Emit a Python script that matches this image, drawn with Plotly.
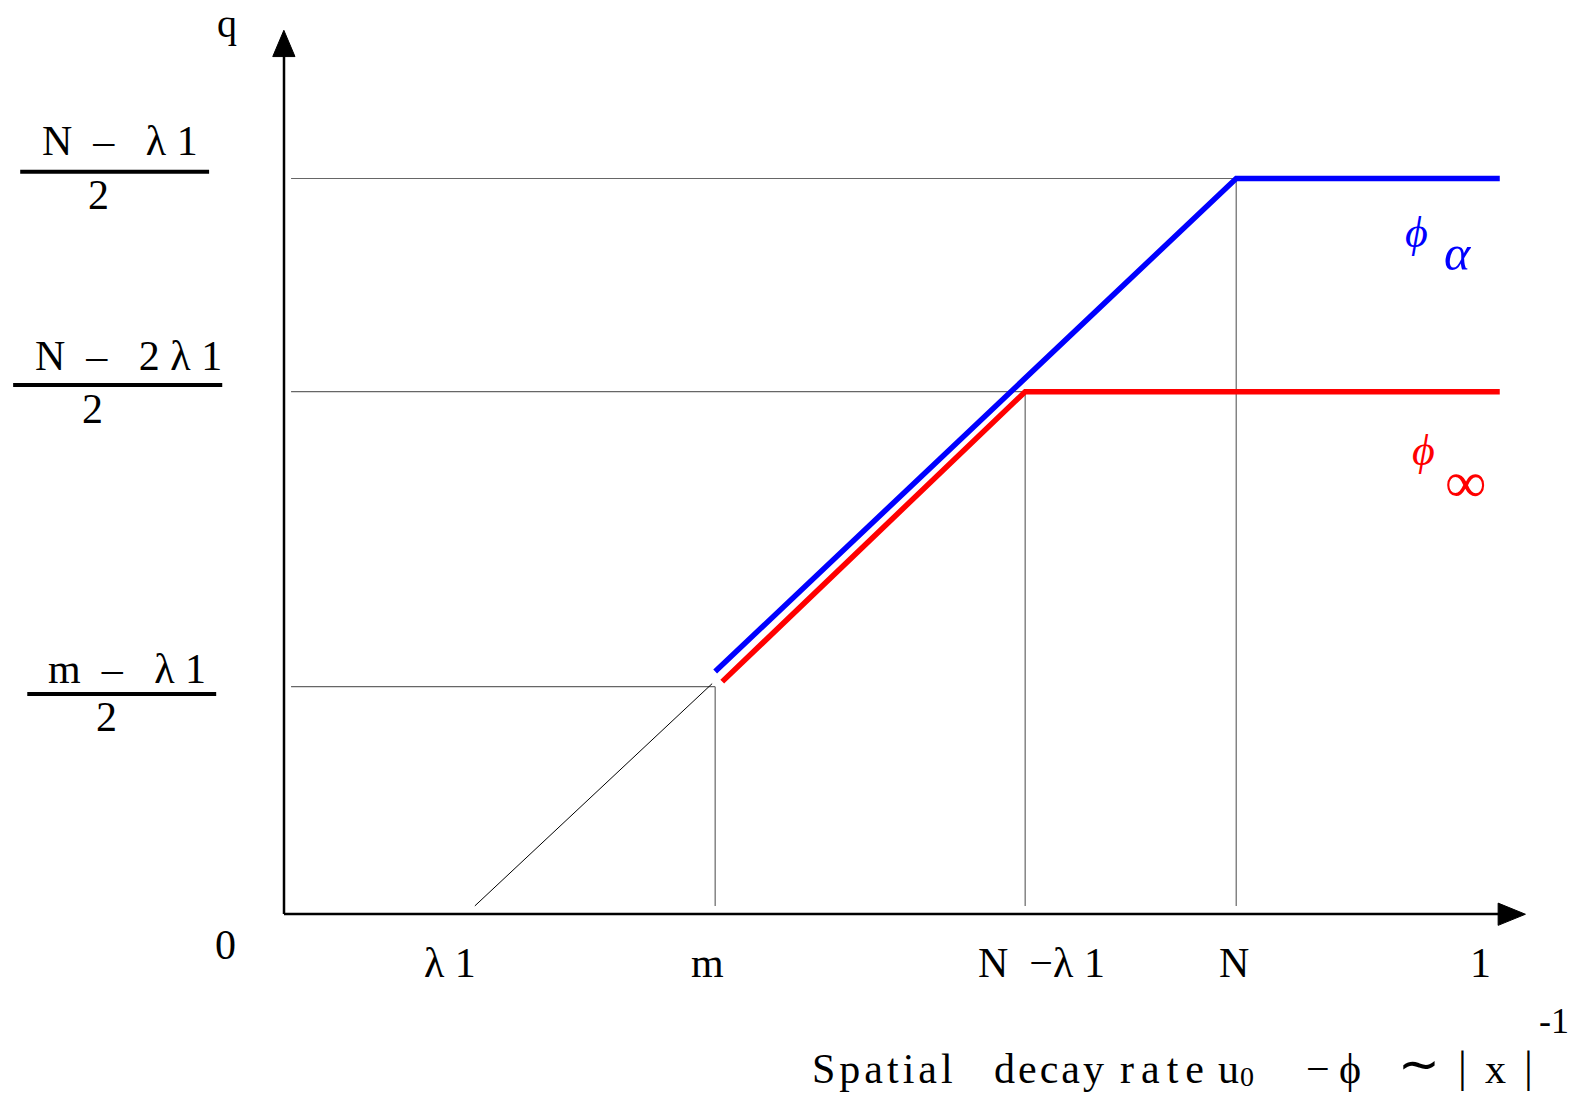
import plotly.graph_objects as go

# ---------------- data ----------------
x_tick_labels = ["λ\u00a01", "m", "N\u00a0\u00a0−λ\u00a01", "N", "1"]
x_tick_values = [1.89, 4.27, 7.34, 9.43, 11.84]

level_names = ["(m−λ1)/2", "(N−2λ1)/2", "(N−λ1)/2"]
level_values = [2.25, 5.17, 7.28]          # q levels
level_x = [4.27, 7.34, 9.43]               # x where each level is reached

blue_x = [4.27, 9.43, 12.04]               # phi_alpha
blue_y = [2.40, 7.28, 7.28]
red_x = [4.34, 7.34, 12.04]                # phi_infinity
red_y = [2.30, 5.17, 5.17]
black_x = [1.89, 4.24]                     # thin diagonal from lambda_1
black_y = [0.08, 2.28]

X_MAX, Y_MAX = 12.29, 8.75
W, H = 1584, 1093
S = 1584 / 1568                             # layout positions measured on a 1568-wide view
ML, MT = round(281 * S), round(30 * S)
PR, PB = round(1510 * S), round(905 * S)
MR, MB = W - PR, H - PB
PW, PH = PR - ML, PB - MT


def pxx(px):
    return (px * S - ML) / PW


def pxy(py):
    return (PB - py * S) / PH


FONT = "Liberation Serif"
fig = go.Figure()

# gray reference lines
GRAY = "#666666"
for lx, ly in zip(level_x, level_values):
    fig.add_trace(go.Scatter(x=[0.07, lx], y=[ly, ly], mode="lines",
                             line=dict(color=GRAY, width=1.2),
                             hoverinfo="skip", showlegend=False))
    fig.add_trace(go.Scatter(x=[lx, lx], y=[0.08, ly], mode="lines",
                             line=dict(color=GRAY, width=1.2),
                             hoverinfo="skip", showlegend=False))

fig.add_trace(go.Scatter(x=black_x, y=black_y, mode="lines",
                         line=dict(color="black", width=1),
                         hoverinfo="skip", showlegend=False))
fig.add_trace(go.Scatter(x=red_x, y=red_y, mode="lines",
                         line=dict(color="#FF0000", width=5.5),
                         hoverinfo="skip", showlegend=False))
fig.add_trace(go.Scatter(x=blue_x, y=blue_y, mode="lines",
                         line=dict(color="#0000FF", width=5.5),
                         hoverinfo="skip", showlegend=False))

shapes = []
# axes
shapes.append(dict(type="line", xref="paper", yref="paper", x0=0, y0=0, x1=pxx(1488), y1=0,
                   line=dict(color="black", width=2.5)))
shapes.append(dict(type="line", xref="paper", yref="paper", x0=0, y0=0, x1=0, y1=pxy(52),
                   line=dict(color="black", width=2.5)))
# arrowheads
shapes.append(dict(type="path", xref="paper", yref="paper",
                   path=f"M {pxx(1510)} {pxy(905)} L {pxx(1483)} {pxy(894)} L {pxx(1483)} {pxy(916)} Z",
                   fillcolor="black", line=dict(color="black", width=1)))
shapes.append(dict(type="path", xref="paper", yref="paper",
                   path=f"M {pxx(281)} {pxy(30)} L {pxx(270)} {pxy(56)} L {pxx(292)} {pxy(56)} Z",
                   fillcolor="black", line=dict(color="black", width=1)))

NB = "\u00a0"
DASH = "–"
# fraction labels on the y side: (numerator, num_left, num_cy, bar_x0, bar_x1, bar_y, den_cx, den_cy)
fractions = [
    ("m" + NB * 2 + DASH + NB * 3 + "λ" + NB + "1", 46, 662, 27, 214, 687, 105, 710),
    ("N" + NB * 2 + DASH + NB * 3 + "2" + NB + "λ" + NB + "1", 33, 352, 13, 220, 381, 92, 405),
    ("N" + NB * 2 + DASH + NB * 3 + "λ" + NB + "1", 40, 140, 20, 207, 170, 98, 193),
]
annotations = []
for num, nl, ncy, bx0, bx1, by, dcx, dcy in fractions:
    annotations.append(dict(text=num, xref="paper", yref="paper",
                            x=pxx(nl), y=pxy(ncy), showarrow=False,
                            font=dict(family=FONT, size=42, color="black"),
                            xanchor="left", yanchor="middle"))
    annotations.append(dict(text="2", xref="paper", yref="paper",
                            x=pxx(dcx), y=pxy(dcy), showarrow=False,
                            font=dict(family=FONT, size=42, color="black"),
                            xanchor="center", yanchor="middle"))
    shapes.append(dict(type="line", xref="paper", yref="paper",
                       x0=pxx(bx0), x1=pxx(bx1), y0=pxy(by), y1=pxy(by),
                       line=dict(color="black", width=4)))

# x tick labels
x_label_offsets = [-0.25, -0.08, 0.16, -0.02, 0.01]
for lab, xv, off in zip(x_tick_labels, x_tick_values, x_label_offsets):
    annotations.append(dict(text=lab, xref="x", yref="paper",
                            x=xv + off, y=pxy(953), showarrow=False,
                            font=dict(family=FONT, size=42, color="black"),
                            xanchor="center", yanchor="middle"))

# origin and q
annotations.append(dict(text="0", xref="paper", yref="paper", x=pxx(223), y=pxy(935),
                        showarrow=False, font=dict(family=FONT, size=42, color="black"),
                        xanchor="center", yanchor="middle"))
annotations.append(dict(text="q", xref="paper", yref="paper", x=pxx(225), y=pxy(0),
                        showarrow=False, font=dict(family=FONT, size=40, color="black"),
                        xanchor="center", yanchor="top", borderpad=0))

# curve labels
annotations += [
    dict(text="<i>ϕ</i>", xref="paper", yref="paper", x=pxx(1402), y=pxy(230), showarrow=False,
         font=dict(family=FONT, size=44, color="#0000FF"), xanchor="center", yanchor="middle"),
    dict(text="<i>α</i>", xref="paper", yref="paper", x=pxx(1443), y=pxy(250), showarrow=False,
         font=dict(family=FONT, size=50, color="#0000FF"), xanchor="center", yanchor="middle"),
    dict(text="<i>ϕ</i>", xref="paper", yref="paper", x=pxx(1409), y=pxy(446), showarrow=False,
         font=dict(family=FONT, size=44, color="#FF0000"), xanchor="center", yanchor="middle"),
    dict(text="∞", xref="paper", yref="paper", x=pxx(1451), y=pxy(478), showarrow=False,
         font=dict(family=FONT, size=58, color="#FF0000"), xanchor="center", yanchor="middle"),
]

# x axis title, piece by piece (boxes sit on the bottom edge of the page)
title_parts = [
    ('<span style="letter-spacing:4px">Spatial</span>', 803, "left", 42),
    ('<span style="letter-spacing:3px">decay</span>', 983, "left", 42),
    ('<span style="letter-spacing:7px">rate</span>', 1108, "left", 42),
    ("u", 1205, "left", 42),
    ("0", 1234, "center", 28),
    ("−", 1305, "center", 42),
    ("ϕ", 1336, "center", 42),
    ("∼", 1405, "center", 50),
    ("|", 1448, "center", 44),
    ("x", 1480, "center", 42),
    ("|", 1513, "center", 44),
]
y_bottom = pxy(H / S)
for txt, px, anc, sz in title_parts:
    annotations.append(dict(text=txt, xref="paper", yref="paper", x=pxx(px), y=y_bottom,
                            showarrow=False, font=dict(family=FONT, size=sz, color="black"),
                            xanchor=anc, yanchor="bottom", borderpad=0))
annotations.append(dict(text="-1", xref="paper", yref="paper", x=pxx(1538), y=pxy(1011),
                        showarrow=False, font=dict(family=FONT, size=36, color="black"),
                        xanchor="center", yanchor="middle"))

fig.update_layout(
    width=W, height=H,
    margin=dict(l=ML, r=MR, t=MT, b=MB, pad=0),
    paper_bgcolor="white", plot_bgcolor="white",
    xaxis=dict(range=[0, X_MAX], visible=False, fixedrange=True),
    yaxis=dict(range=[0, Y_MAX], visible=False, fixedrange=True),
    shapes=shapes, annotations=annotations,
)

fig.write_html("out.html", config={"displayModeBar": False},
               post_script="document.body.style.margin='0px';")
